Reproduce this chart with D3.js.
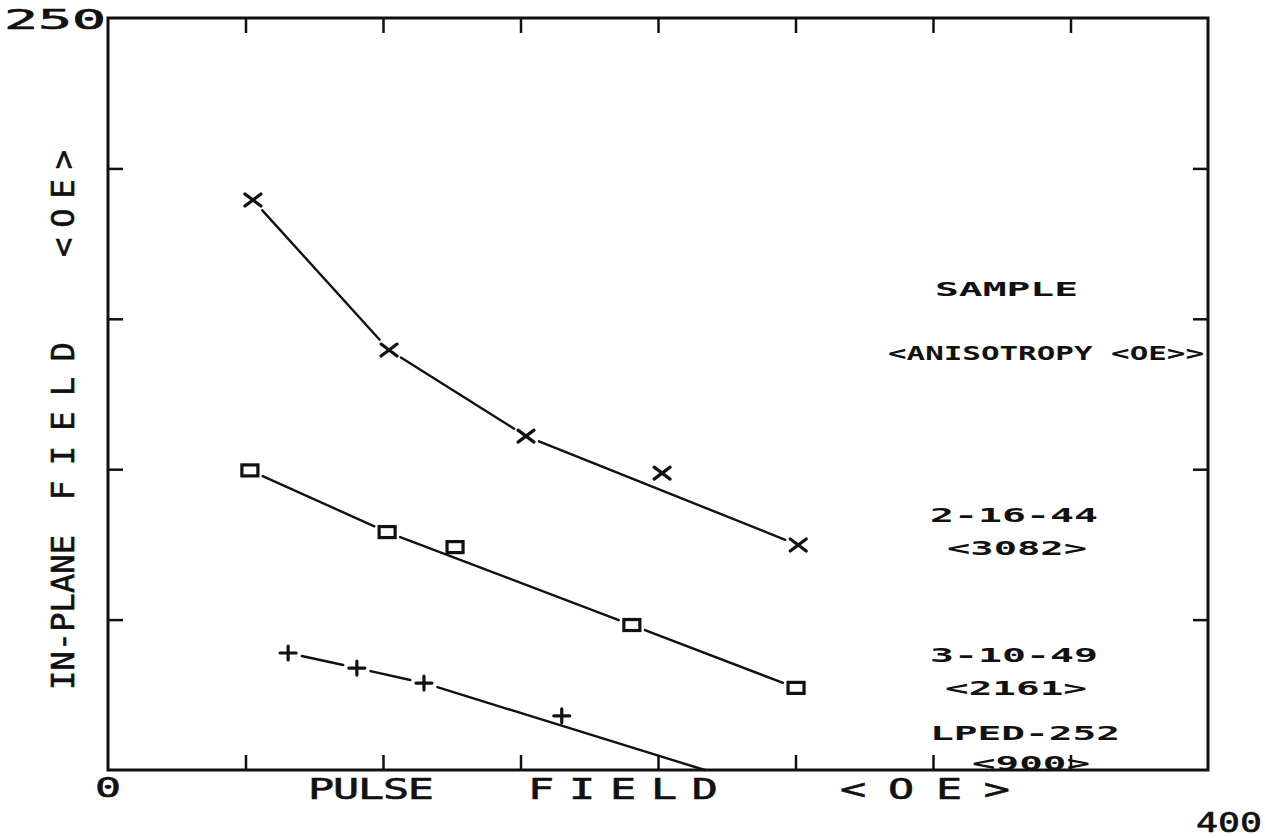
<!DOCTYPE html>
<html>
<head>
<meta charset="utf-8">
<script src="https://cdn.jsdelivr.net/npm/d3@7"></script>
<style>
  html, body { margin: 0; padding: 0; background: #fff; }
  svg { display: block; }
</style>
</head>
<body>
<div id="chart"></div>
<script>
/* Pulse field vs in-plane field, three bubble samples (plotter style) */

// ---- Data ----
// sample 2-16-44 <3082>, marked x
const pulseA = [52.7, 102.2, 152.0, 201.5, 251.0];
const fieldA = [189.5, 139.6, 111.0, 98.7, 74.8];
const onCurveA = [1, 1, 1, 0, 1];

// sample 3-10-49 <2161>, marked with squares
const pulseB = [51.6, 101.5, 126.2, 190.5, 250.2];
const fieldB = [99.6, 79.1, 74.1, 48.2, 27.3];
const onCurveB = [1, 1, 0, 1, 1];

// sample LPED-252 <900>, marked +
const pulseC = [65.5, 90.5, 114.9, 165.0];
const fieldC = [38.9, 33.9, 28.9, 18.0];
const onCurveC = [1, 1, 1, 0];
const curveEndC = [217, 0]; // line is run down to the axis

const xTicks = [50, 100, 150, 200, 250, 300, 350];
const yTicks = [50, 100, 150, 200];
const xDomain = [0, 400];
const yDomain = [0, 250];

const xTitleWords = ['PULSE', 'FIELD', '<OE>'];
const yTitleWords = ['IN-PLANE', 'FIELD', '<OE>'];
const legendLines = ['SAMPLE', '<ANISOTROPY <OE>>', '2-16-44', '<3082>', '3-10-49', '<2161>', 'LPED-252', '<900>'];

// ---- Setup ----
const W = 1265, H = 838;
const FONT = "'DejaVu Sans Mono', 'Liberation Mono', monospace";
const INK = '#111';

const svg = d3.select('#chart').append('svg')
  .attr('width', W).attr('height', H)
  .attr('viewBox', `0 0 ${W} ${H}`);
svg.append('rect').attr('width', W).attr('height', H).attr('fill', '#fff');

const x = d3.scaleLinear().domain(xDomain).range([108, 1208]);
const y = d3.scaleLinear().domain(yDomain).range([770, 18]);

// ---- Frame + inward ticks ----
const tickLen = 15;
const styleAxis = sel => {
  sel.select('.domain').remove();
  sel.selectAll('.tick line').attr('stroke', INK).attr('stroke-width', 2.5);
  sel.selectAll('.tick text').remove();
};

svg.append('g').attr('transform', `translate(0,${y(250)})`)
  .call(d3.axisTop(x).tickValues(xTicks).tickSize(-tickLen)).call(styleAxis);
svg.append('g').attr('transform', `translate(0,${y(0)})`)
  .call(d3.axisBottom(x).tickValues(xTicks).tickSize(-tickLen)).call(styleAxis);
svg.append('g').attr('transform', `translate(${x(0)},0)`)
  .call(d3.axisLeft(y).tickValues(yTicks).tickSize(-tickLen)).call(styleAxis);
svg.append('g').attr('transform', `translate(${x(400)},0)`)
  .call(d3.axisRight(y).tickValues(yTicks).tickSize(-tickLen)).call(styleAxis);

svg.append('rect')
  .attr('x', x(0)).attr('y', y(250))
  .attr('width', x(400) - x(0)).attr('height', y(0) - y(250))
  .attr('fill', 'none').attr('stroke', INK).attr('stroke-width', 3);

// ---- Text helper: mono text, widened to look like plotter lettering ----
// sx widens the glyphs; len is the on-screen width the word should fill
function label(txt, tx, ty, size, len, opts = {}) {
  const sx = opts.sx || 1;
  const rot = opts.rot ? ` rotate(${opts.rot})` : '';
  return svg.append('text')
    .attr('transform', `translate(${tx},${ty})${rot} scale(${sx},1)`)
    .attr('font-family', FONT)
    .attr('font-size', size)
    .attr('font-weight', opts.bold ? 'bold' : 'normal')
    .attr('fill', INK)
    .attr('stroke', INK)
    .attr('stroke-width', opts.heavy || 0)
    .attr('textLength', len / sx)
    .attr('lengthAdjust', opts.adjust || 'spacingAndGlyphs')
    .text(txt);
}

// axis end labels
label('250', 4, y(250) + 11, 26, 102, { heavy: 0.6 });
label('0', x(0) - 13, 797, 27, 26, { heavy: 0.6 });
label('400', 1196, 832, 27, 66, { heavy: 0.6 });

// axis titles, word by word (the plotter spaced them out)
const xTitlePos = [[308, 126], [528, 190], [840, 170]];
xTitleWords.forEach((w, i) =>
  label(w, xTitlePos[i][0], 799, 28, xTitlePos[i][1], { sx: 1.55, adjust: 'spacing', heavy: 0.6 }));

const yTitlePos = [[690, 155], [500, 158], [257, 107]];
yTitleWords.forEach((w, i) =>
  label(w, 74, yTitlePos[i][0], 32, yTitlePos[i][1], { rot: -90, adjust: 'spacing', heavy: 0.6 }));

// legend text block on the right
const legendPos = [
  [935, 296, 143], [888, 360, 316],
  [930, 522, 168], [947, 555, 140],
  [930, 662, 168], [945, 695, 142],
  [930, 740, 190], [972, 770, 118]
];
legendLines.forEach((s, i) => {
  const [lx, ly, len] = legendPos[i];
  label(s, lx, ly, 19, len, { bold: true });
});

// ---- Curves (broken around the markers, like the plotter did) ----
const gap = 14;
function drawCurve(pts) {
  for (let i = 0; i < pts.length - 1; i++) {
    const a = pts[i], b = pts[i + 1];
    const x1 = x(a[0]), y1 = y(a[1]), x2 = x(b[0]), y2 = y(b[1]);
    const L = Math.hypot(x2 - x1, y2 - y1);
    const ux = (x2 - x1) / L, uy = (y2 - y1) / L;
    const g1 = a[2] ? gap : 0, g2 = b[2] ? gap : 0;
    svg.append('line')
      .attr('x1', x1 + ux * g1).attr('y1', y1 + uy * g1)
      .attr('x2', x2 - ux * g2).attr('y2', y2 - uy * g2)
      .attr('stroke', INK).attr('stroke-width', 2.4)
      .attr('stroke-linecap', 'round');
  }
}

const curvePts = (px, fy, on) => px.map((v, i) => [v, fy[i], 1]).filter((d, i) => on[i]);

drawCurve(curvePts(pulseA, fieldA, onCurveA));
drawCurve(curvePts(pulseB, fieldB, onCurveB));
drawCurve(curvePts(pulseC, fieldC, onCurveC).concat([[curveEndC[0], curveEndC[1], 0]]));

// ---- Markers ----
const mk = svg.append('g')
  .attr('stroke', INK).attr('stroke-width', 3.2)
  .attr('stroke-linecap', 'round').attr('fill', 'none');

pulseA.forEach((v, i) => {
  const cx = x(v), cy = y(fieldA[i]);
  mk.append('path').attr('d', `M${cx - 8},${cy - 6}L${cx + 8},${cy + 6}M${cx - 8},${cy + 6}L${cx + 8},${cy - 6}`);
});

pulseB.forEach((v, i) => {
  const cx = x(v), cy = y(fieldB[i]);
  mk.append('rect').attr('x', cx - 8).attr('y', cy - 5.5).attr('width', 16).attr('height', 11);
});

pulseC.forEach((v, i) => {
  const cx = x(v), cy = y(fieldC[i]);
  mk.append('path').attr('d', `M${cx - 8},${cy}L${cx + 8},${cy}M${cx},${cy - 7}L${cx},${cy + 7}`);
});
</script>
</body>
</html>
